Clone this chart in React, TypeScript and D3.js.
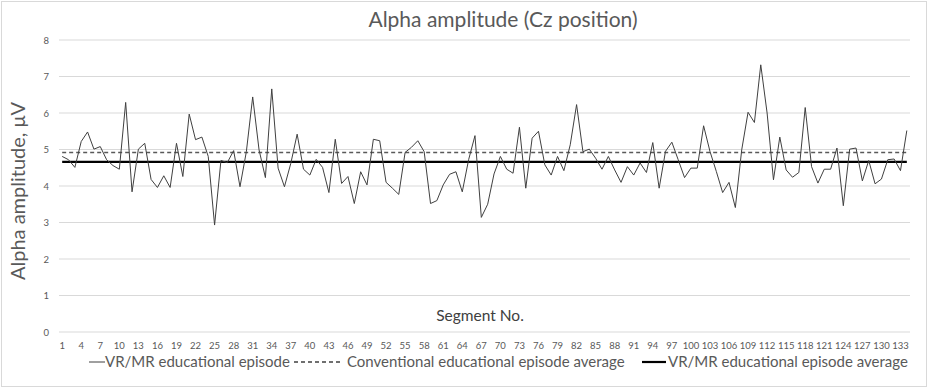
import React from 'react';
import * as d3 from 'd3';

// VR/MR educational episode, alpha amplitude per segment (µV)
const vrMr = [
  4.81, 4.72, 4.51, 5.22, 5.48, 5.01, 5.08, 4.72, 4.56, 4.46,
  6.29, 3.84, 5.01, 5.17, 4.18, 3.96, 4.28, 3.96, 5.17, 4.26,
  5.97, 5.27, 5.34, 4.81, 2.93, 4.7, 4.64, 4.97, 3.98, 4.94,
  6.44, 4.99, 4.23, 6.66, 4.49, 3.98, 4.62, 5.42, 4.46, 4.3,
  4.73, 4.51, 3.82, 5.28, 4.07, 4.26, 3.52, 4.39, 4.03, 5.28,
  5.24, 4.1, 3.94, 3.77, 4.92, 5.06, 5.24, 4.94, 3.52, 3.6,
  4.03, 4.32, 4.39, 3.84, 4.72, 5.38, 3.14, 3.5, 4.33, 4.81,
  4.46, 4.35, 5.61, 3.94, 5.31, 5.5, 4.58, 4.3, 4.81, 4.42,
  5.13, 6.23, 4.94, 5.01, 4.76, 4.46, 4.81, 4.44, 4.1, 4.53,
  4.3, 4.63, 4.37, 5.19, 3.94, 4.95, 5.2, 4.72, 4.23, 4.49,
  4.49, 5.65, 4.95, 4.4, 3.82, 4.1, 3.41, 4.99, 6.02, 5.74,
  7.32, 6.0, 4.17, 5.34, 4.44, 4.24, 4.37, 6.15, 4.53, 4.08,
  4.46, 4.46, 5.04, 3.46, 5.01, 5.04, 4.14, 4.7, 4.06, 4.19,
  4.72, 4.74, 4.42, 5.52,
];
const segments = vrMr.map((_, i) => i + 1);
const conventionalAvg = 4.92;
const vrMrAvg = 4.66;
const yTicks = [0, 1, 2, 3, 4, 5, 6, 7, 8];
const xTickLabels = segments.filter(s => (s - 1) % 3 === 0);

const legendItems = [
  { label: 'VR/MR educational episode', kind: 'thin', x: 89 },
  { label: 'Conventional educational episode average', kind: 'dash', x: 294 },
  { label: 'VR/MR educational episode average', kind: 'thick', x: 642 },
];

const font = 'Lato, "Liberation Sans", Arial, sans-serif';
const grey = '#595959';

const App = () => {
  const width = 929;
  const height = 390;
  const plot = { left: 59, right: 910, top: 40, bottom: 332 };

  const x = d3
    .scaleBand<number>()
    .domain(segments)
    .range([plot.left, plot.right])
    .padding(0);
  const cx = (s: number) => (x(s) as number) + x.bandwidth() / 2;

  const y = d3.scaleLinear().domain([0, 8]).range([plot.bottom, plot.top]);

  const line = d3
    .line<number>()
    .x((_, i) => cx(segments[i]))
    .y(d => y(d));

  const first = cx(segments[0]);
  const last = cx(segments[segments.length - 1]);

  return (
    <svg
      width={width}
      height={height}
      style={{ position: 'absolute', left: 0, top: 0, background: '#fff' }}
      fontFamily={font}
    >
      <rect x={1.5} y={1.5} width={925} height={385} fill="#fff" stroke="#d9d9d9" />

      <text x={503} y={27} textAnchor="middle" fontSize={21} fill={grey}>
        Alpha amplitude (Cz position)
      </text>

      {/* gridlines + y ticks */}
      {yTicks.map(t => (
        <g key={t}>
          <line x1={plot.left} x2={plot.right} y1={y(t)} y2={y(t)} stroke="#d9d9d9" />
          <text x={49} y={y(t) + 3.5} textAnchor="end" fontSize={9.5} fill={grey}>
            {t}
          </text>
        </g>
      ))}

      <text
        transform={`translate(25, ${(plot.top + plot.bottom) / 2 + 5}) rotate(-90)`}
        textAnchor="middle"
        fontSize={20}
        fill={grey}
      >
        Alpha amplitude, μV
      </text>

      {xTickLabels.map(s => (
        <text key={s} x={cx(s)} y={349} textAnchor="middle" fontSize={9.5} fill={grey}>
          {s}
        </text>
      ))}

      <text x={480} y={321} textAnchor="middle" fontSize={15.5} fill="#404040">
        Segment No.
      </text>

      {/* averages */}
      <line
        x1={first}
        x2={last}
        y1={y(conventionalAvg)}
        y2={y(conventionalAvg)}
        stroke="#595959"
        strokeWidth={1.5}
        strokeDasharray="4,3"
      />
      <line
        x1={first}
        x2={last}
        y1={y(vrMrAvg)}
        y2={y(vrMrAvg)}
        stroke="#000"
        strokeWidth={2.2}
      />

      <path d={line(vrMr) || ''} fill="none" stroke="#404040" strokeWidth={1} />

      {/* legend */}
      {legendItems.map(item => (
        <g key={item.label} transform={`translate(${item.x}, 367)`}>
          <line
            x1={0}
            x2={item.kind === 'dash' ? 46 : item.kind === 'thick' ? 24 : 16}
            y1={-5}
            y2={-5}
            stroke={item.kind === 'thick' ? '#000' : '#404040'}
            strokeWidth={item.kind === 'thick' ? 2.2 : item.kind === 'dash' ? 1.5 : 1}
            strokeDasharray={item.kind === 'dash' ? '4,3' : undefined}
          />
          <text
            x={item.kind === 'dash' ? 53 : item.kind === 'thick' ? 26 : 16}
            y={0}
            fontSize={15}
            fill={grey}
          >
            {item.label}
          </text>
        </g>
      ))}
    </svg>
  );
};

export default App;
